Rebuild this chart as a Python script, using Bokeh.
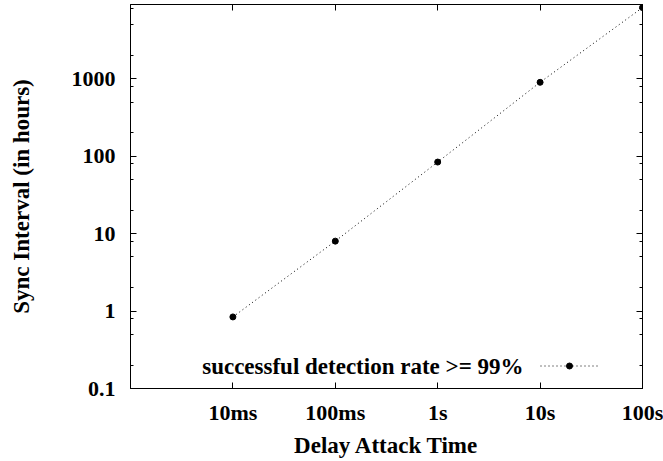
from bokeh.plotting import figure
from bokeh.models import (Range1d, LogAxis, FixedTicker, Legend, LegendItem, Label)
from bokeh.embed import file_html
from bokeh.resources import INLINE

# ---- data ----
delay_seconds = [0.01, 0.1, 1, 10, 100]
x_tick_labels = ["10ms", "100ms", "1s", "10s", "100s"]
sync_interval_hours = [0.84, 8.0, 84, 900, 8300]
y_ticks = [0.1, 1, 10, 100, 1000]
y_tick_labels = ["0.1", "1", "10", "100", "1000"]
y_minor = [m * d for d in [0.1, 1, 10, 100, 1000] for m in (2, 5, 8)]
series_label = "successful detection rate >= 99%"

FONT = "Liberation Serif"
FS = "22px"
FS_BIG = "23px"

p = figure(width=663, height=461, x_axis_type="log", y_axis_type="log",
           x_range=Range1d(0.001, 100), y_range=Range1d(0.1, 9100),
           output_backend="svg", toolbar_location=None,
           min_border_left=130, min_border_right=21, min_border_top=4,
           min_border_bottom=73)
p.xgrid.visible = False
p.ygrid.visible = False
p.outline_line_color = "black"
p.outline_line_width = 1
p.background_fill_color = "white"
p.border_fill_color = "white"

xt = FixedTicker(ticks=delay_seconds, minor_ticks=[])
yt = FixedTicker(ticks=y_ticks, minor_ticks=y_minor)

def style(ax):
    ax.axis_line_color = "black"
    ax.major_tick_in = 6
    ax.major_tick_out = 0
    ax.minor_tick_in = 3
    ax.minor_tick_out = 0
    ax.major_tick_line_color = "black"
    ax.minor_tick_line_color = "black"
    ax.major_label_text_font = FONT
    ax.major_label_text_font_style = "bold"
    ax.major_label_text_color = "black"
    ax.major_label_text_font_size = FS
    ax.axis_label_text_font = FONT
    ax.axis_label_text_font_style = "bold"
    ax.axis_label_text_font_size = FS_BIG
    ax.axis_label_text_color = "black"

xa = p.xaxis[0]
xa.ticker = xt
xa.major_label_overrides = {v: s for v, s in zip(delay_seconds, x_tick_labels)}
xa.axis_label = "Delay Attack Time"
style(xa)
xa.major_label_standoff = 11
xa.axis_label_standoff = 5

ya = p.yaxis[0]
ya.ticker = yt
ya.major_label_overrides = {v: s for v, s in zip(y_ticks, y_tick_labels)}
ya.axis_label = "Sync Interval (in hours)"
style(ya)
ya.major_label_standoff = 15
ya.axis_label_standoff = 35

top = LogAxis(ticker=xt)
style(top)
top.major_label_text_font_size = "2px"
top.major_label_text_alpha = 0
top.major_label_standoff = 0
top.minor_tick_line_color = None
p.add_layout(top, "above")

right = LogAxis(ticker=yt)
style(right)
right.major_label_text_font_size = "2px"
right.major_label_text_alpha = 0
right.major_label_standoff = 0
p.add_layout(right, "right")

ln = p.line(delay_seconds, sync_interval_hours, line_color="black",
            line_width=1, line_dash="1 3")
pts = p.scatter(delay_seconds, sync_interval_hours, marker="circle", size=6,
                fill_color="black", line_color="black")

legend = Legend(items=[LegendItem(label=" ", renderers=[ln, pts])],
                location=(410, 15), glyph_width=58, glyph_height=15,
                label_height=15, label_width=1, label_standoff=0,
                label_text_font_size="8px", padding=0, margin=0, spacing=0,
                border_line_color=None, background_fill_alpha=0)
p.add_layout(legend)

p.add_layout(Label(x=393, y=22, x_units="screen", y_units="screen",
                   text=series_label, text_align="right", text_baseline="middle",
                   text_font=FONT, text_font_style="bold", text_font_size=FS_BIG,
                   text_color="black"))

open("out.html", "w").write(file_html(p, INLINE))
